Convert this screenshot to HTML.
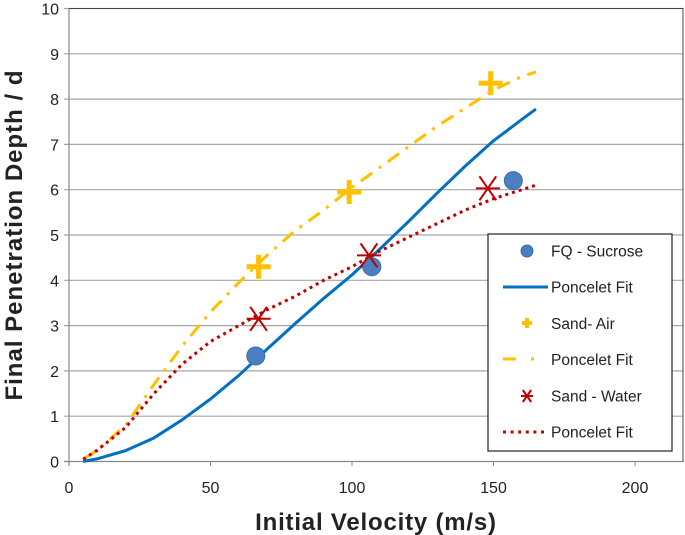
<!DOCTYPE html>
<html><head><meta charset="utf-8"><style>
body{margin:0;background:#fff;}
svg{display:block;font-family:"Liberation Sans",sans-serif;}
</style></head><body>
<svg id="c" width="685" height="535"></svg>
<script>
const xTicks=[0,50,100,150,200];
const yTicks=[0,1,2,3,4,5,6,7,8,9,10];
const sucroseX=[66,107,157];
const sucroseY=[2.33,4.3,6.2];
const airX=[67,99,149];
const airY=[4.3,5.95,8.35];
const waterX=[67,106,148];
const waterY=[3.15,4.55,6.03];
const fitX=[5,10,20,30,40,50,60,70,80,90,100,110,120,130,140,150,160,165];
const fitSucrose=[0,0.06,0.24,0.52,0.92,1.38,1.9,2.48,3.05,3.6,4.12,4.7,5.3,5.92,6.52,7.08,7.55,7.78];
const fitAir=[0.05,0.25,0.8,1.7,2.55,3.3,3.95,4.55,5.1,5.55,6.05,6.5,6.95,7.4,7.8,8.2,8.5,8.6];
const fitWater=[0.05,0.25,0.75,1.5,2.15,2.65,3.0,3.35,3.65,4.0,4.3,4.65,4.95,5.25,5.55,5.8,6.0,6.1];
const NS='http://www.w3.org/2000/svg';
const svg=document.getElementById('c');
const X=v=>69+v*2.83, Y=v=>461.5-v*45.3;
function mk(t,a,p){const e=document.createElementNS(NS,t);for(const k in a)e.setAttribute(k,a[k]);(p||svg).appendChild(e);return e;}
yTicks.forEach(t=>{
const l=mk('line',{x1:64,x2:683,y1:Y(t),y2:Y(t),stroke:t==0?'#888':'#a6a6a6','stroke-width':1.2});


const tx=mk('text',{x:59,y:Y(t)+6,'text-anchor':'end','font-size':16,fill:'#222'});tx.textContent=t;


});
mk('line',{x1:69,x2:69,y1:8,y2:466,stroke:'#888','stroke-width':1.2});
mk('line',{x1:683,x2:683,y1:8,y2:462,stroke:'#444','stroke-width':1});
mk('line',{x1:69,x2:683,y1:8.5,y2:8.5,stroke:'#444','stroke-width':1});
xTicks.forEach(t=>{
mk('line',{x1:X(t),x2:X(t),y1:461,y2:466,stroke:'#888'});
const tx=mk('text',{x:X(t),y:493,'text-anchor':'middle','font-size':16,fill:'#222'});tx.textContent=t;


});
const xt=mk('text',{x:376,y:530,'text-anchor':'middle','font-size':24,'font-weight':'bold','letter-spacing':'0.8',fill:'#222'});xt.textContent='Initial Velocity (m/s)';


const yt=mk('text',{x:0,y:0,'text-anchor':'middle','font-size':24,'font-weight':'bold','letter-spacing':'1',fill:'#222',transform:'translate(22,235) rotate(-90)'});yt.textContent='Final Penetration Depth  / d';


function line(ys,st,name){const d=fitX.map((x,i)=>(i?'L':'M')+X(x)+','+Y(ys[i])).join('');const p=mk('path',Object.assign({d:d,fill:'none','stroke-linejoin':'round'},st));

}
line(fitSucrose,{stroke:'#0070c0','stroke-width':3},'sucrose-fit-line');
line(fitAir,{stroke:'#ffc000','stroke-width':3,'stroke-dasharray':'14,8,3,8'},'air-fit-line');
line(fitWater,{stroke:'#c00000','stroke-width':3,'stroke-dasharray':'3,4'},'water-fit-line');
function circ(x,y,r,p){return mk('circle',{cx:x,cy:y,r:r,fill:'#4a7fc1',stroke:'#3a6db0'},p);}
function plus(x,y,s,w,p){return mk('path',{d:`M${x-s},${y}H${x+s}M${x},${y-s}V${y+s}`,stroke:'#ffc000','stroke-width':w},p);}
function star(x,y,s,w,p){return mk('path',{d:`M${x-s*0.7},${y-s}L${x+s*0.7},${y+s}M${x+s*0.7},${y-s}L${x-s*0.7},${y+s}M${x-s},${y}H${x+s}`,stroke:'#c00000','stroke-width':w},p);}
sucroseX.forEach((x,i)=>{const e=circ(X(x),Y(sucroseY[i]),9);

});
airX.forEach((x,i)=>{const e=plus(X(x),Y(airY[i]),12,5);

});
waterX.forEach((x,i)=>{const e=star(X(x),Y(waterY[i]),12,2);

});
const lg=mk('g',{});


mk('rect',{x:488,y:234,width:184,height:217,fill:'#fff',stroke:'#222','stroke-width':1.2},lg);
const labels=['FQ - Sucrose','Poncelet Fit','Sand- Air','Poncelet Fit','Sand - Water','Poncelet Fit'];
labels.forEach((s,i)=>{const y=251+i*36.2;
const t=mk('text',{x:551,y:y+5.5,'font-size':15.5,fill:'#222'},lg);t.textContent=s;


});
circ(527,251,6,lg);
mk('line',{x1:503,x2:548,y1:287,y2:287,stroke:'#0070c0','stroke-width':3},lg);
plus(527,323,5,4,lg);
mk('path',{d:'M503,359H516M531,359H534',stroke:'#ffc000','stroke-width':3},lg);
star(527,396,6,2,lg);
mk('line',{x1:503,x2:548,y1:432,y2:432,stroke:'#c00000','stroke-width':3,'stroke-dasharray':'3,4.6'},lg);
</script>
</body></html>
